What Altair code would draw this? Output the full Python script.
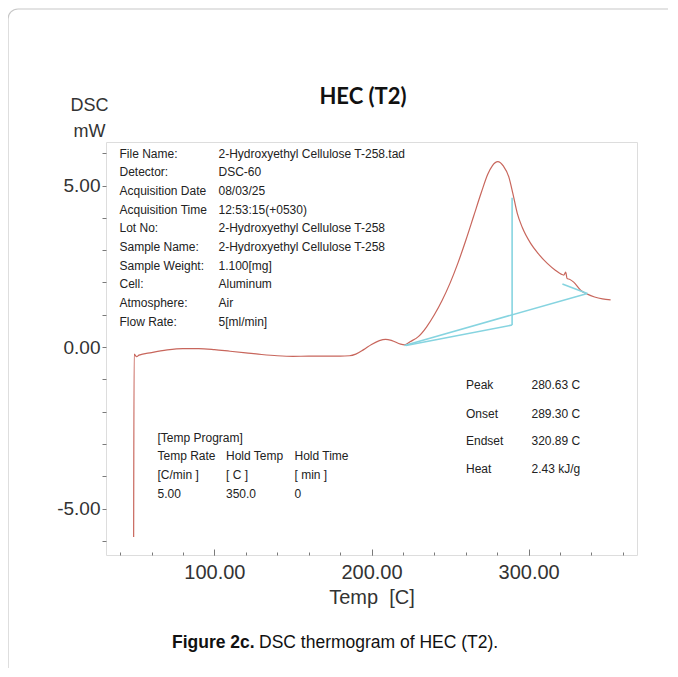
import altair as alt
import pandas as pd

# ---------------- data ----------------
temp_c = [48.6, 48.9, 50.5, 52, 60, 70, 80, 90, 100, 110, 120, 130, 140, 150,
          160, 170, 180, 186, 190, 195, 200, 205, 209, 213, 218.5, 221, 224.8,
          230, 235, 240, 245, 250, 255, 260, 265, 270, 274, 277, 280.4,
          284, 287.4, 290, 292.8, 296, 301.3, 306, 311.9, 317, 322.5, 323.6,
          324.5, 326, 328.7, 333.1, 337.4, 342, 347, 352.2]
dsc_mw = [-5.88, -0.22, -0.30, -0.25, -0.17, -0.09, -0.05, -0.05, -0.08, -0.13,
          -0.18, -0.23, -0.27, -0.29, -0.28, -0.28, -0.28, -0.27, -0.22, -0.08,
          0.08, 0.20, 0.24, 0.20, 0.09, 0.07, 0.17, 0.33, 0.62, 1.00, 1.45,
          1.98, 2.60, 3.30, 4.05, 4.80, 5.35, 5.62, 5.74, 5.60, 5.27, 4.75,
          4.14, 3.70, 3.21, 2.90, 2.59, 2.38, 2.23, 2.32, 2.12, 2.10, 2.01,
          1.76, 1.64, 1.55, 1.49, 1.46]
assert len(temp_c) == len(dsc_mw)

base_seg = ["A", "A", "B", "B", "V", "V", "C", "C"]
base_t = [221, 337.4, 222, 289.5, 289.5, 289.5, 321.5, 337.4]
base_mw = [0.05, 1.66, 0.05, 0.68, 0.68, 4.62, 1.95, 1.66]

info_labels = ["File Name:", "Detector:", "Acquisition Date", "Acquisition Time",
               "Lot No:", "Sample Name:", "Sample Weight:", "Cell:",
               "Atmosphere:", "Flow Rate:"]
info_values = ["2-Hydroxyethyl Cellulose T-258.tad", "DSC-60", "08/03/25",
               "12:53:15(+0530)", "2-Hydroxyethyl Cellulose T-258",
               "2-Hydroxyethyl Cellulose T-258", "1.100[mg]", "Aluminum", "Air",
               "5[ml/min]"]
prog_col1 = ["[Temp Program]", "Temp Rate", "[C/min ]", "5.00"]
prog_col2 = ["", "Hold Temp", "[  C  ]", "350.0"]
prog_col3 = ["", "Hold Time", "[  min  ]", "0"]
result_labels = ["Peak", "Onset", "Endset", "Heat"]
result_values = ["280.63 C", "289.30 C", "320.89 C", "2.43 kJ/g"]

x_major = [100, 200, 300]
x_minor = list(range(40, 361, 20))
y_ticks = list(range(-6, 7))

# ---------------- tables ----------------
curve_df = pd.DataFrame({"T": temp_c, "mW": dsc_mw, "i": range(len(temp_c))})
base_df = pd.DataFrame({"T": base_t, "mW": base_mw, "seg": base_seg,
                        "i": range(len(base_t))})

W, H = 531, 413
RED = "#c8665c"
CYAN = "#86d4e0"
GRAY = "#7a7a7a"
FONT = "Liberation Sans"

xscale = alt.Scale(domain=[31, 369], nice=False, zero=False)
yscale = alt.Scale(domain=[-6.44, 6.35], nice=False, zero=False)

curve = alt.Chart(curve_df).mark_line(
    color=RED, strokeWidth=1.2, interpolate="monotone"
).encode(
    x=alt.X("T:Q", scale=xscale, axis=alt.Axis(
        orient="bottom", values=x_major, format=".2f", tickSize=6, offset=-6,
        domain=False, grid=False, tickColor=GRAY, tickWidth=1,
        labelFont=FONT, labelFontSize=20, labelColor="#333", labelPadding=7,
        title="Temp \u00a0[C]", titleFont=FONT, titleFontSize=20,
        titleFontWeight="normal", titleColor="#333", titlePadding=5)),
    y=alt.Y("mW:Q", scale=yscale, axis=alt.Axis(
        values=y_ticks,
        labelExpr="datum.value % 5 == 0 ? (datum.value < 0 ? '-' : '') + format(abs(datum.value), '.2f') : ''",
        tickSize=4, domain=False, grid=False, tickColor=GRAY,
        labelFont=FONT, labelFontSize=19, labelColor="#333", labelPadding=2,
        title=["DSC", "mW"], titleAngle=0, titleX=-17, titleY=-32,
        titleAlign="center", titleBaseline="alphabetic", titleFont=FONT,
        titleFontSize=18, titleFontWeight="normal", titleColor="#333",
        titleLineHeight=26)),
    order="i:Q",
)

baselines = alt.Chart(base_df).mark_line(color=CYAN, strokeWidth=1.6).encode(
    x=alt.X("T:Q", scale=xscale, axis=alt.Axis(
        orient="bottom", values=x_minor, tickSize=3, offset=-3, domain=False,
        grid=False, labels=False, title=None, tickColor=GRAY)),
    y=alt.Y("mW:Q", scale=yscale, axis=None),
    detail="seg:N",
    order="i:Q",
)

# annotation texts (pixel layout within the plot area)
rows = []
for k, (a, b) in enumerate(zip(info_labels, info_values)):
    y = 11.5 + 18.7 * k
    rows.append({"txt": a, "px": 13.5, "py": y})
    rows.append({"txt": b, "px": 112.5, "py": y})
for k, y in enumerate([295.5, 314, 333, 351.5]):
    for col, xx in ((prog_col1, 51.5), (prog_col2, 120), (prog_col3, 188.5)):
        if col[k]:
            rows.append({"txt": col[k], "px": xx, "py": y})
for k, y in enumerate([242.5, 271.5, 299, 326.5]):
    rows.append({"txt": result_labels[k], "px": 360, "py": y})
    rows.append({"txt": result_values[k], "px": 425.5, "py": y})
notes_df = pd.DataFrame(rows)

notes = alt.Chart(notes_df).mark_text(
    align="left", baseline="middle", font=FONT, fontSize=12, color="#222"
).encode(
    x=alt.X("px:Q", scale=None, axis=None),
    y=alt.Y("py:Q", scale=None, axis=None),
    text="txt:N",
)

title = alt.Chart(pd.DataFrame({"txt": ["HEC (T2)"], "px": [257], "py": [-45]})).mark_text(
    align="center", baseline="middle", font="Lato", fontSize=22,
    fontWeight="bold", color="#111"
).encode(x=alt.X("px:Q", scale=None, axis=None),
         y=alt.Y("py:Q", scale=None, axis=None), text="txt:N")

cap_bold = alt.Chart(pd.DataFrame({"txt": ["Figure 2c."], "px": [66], "py": [501]})).mark_text(
    align="left", baseline="middle", font=FONT, fontSize=17.5,
    fontWeight="bold", color="#111"
).encode(x=alt.X("px:Q", scale=None, axis=None),
         y=alt.Y("py:Q", scale=None, axis=None), text="txt:N")

cap_rest = alt.Chart(pd.DataFrame({"txt": ["DSC thermogram of HEC (T2)."], "px": [153], "py": [501]})).mark_text(
    align="left", baseline="middle", font=FONT, fontSize=17.5, color="#111"
).encode(x=alt.X("px:Q", scale=None, axis=None),
         y=alt.Y("py:Q", scale=None, axis=None), text="txt:N")

border = alt.Chart(pd.DataFrame({"a": [0]})).mark_rect(
    fill=None, stroke="#c8c8c8", strokeWidth=1.2, cornerRadius=10
).encode(x=alt.value(-98), x2=alt.value(640), y=alt.value(-133), y2=alt.value(640))

chart = alt.layer(border, curve, baselines, notes, title, cap_bold, cap_rest).resolve_axis(
    x="independent", y="independent"
).properties(
    width=W, height=H,
    autosize=alt.AutoSizeParams(type="none"),
    padding={"left": 98, "top": 134, "right": 31, "bottom": 113},
).configure_view(stroke="#8a8a8a", strokeWidth=1.5).configure(background="white")

chart.save("out.html", embed_options={"renderer": "svg", "actions": False})
